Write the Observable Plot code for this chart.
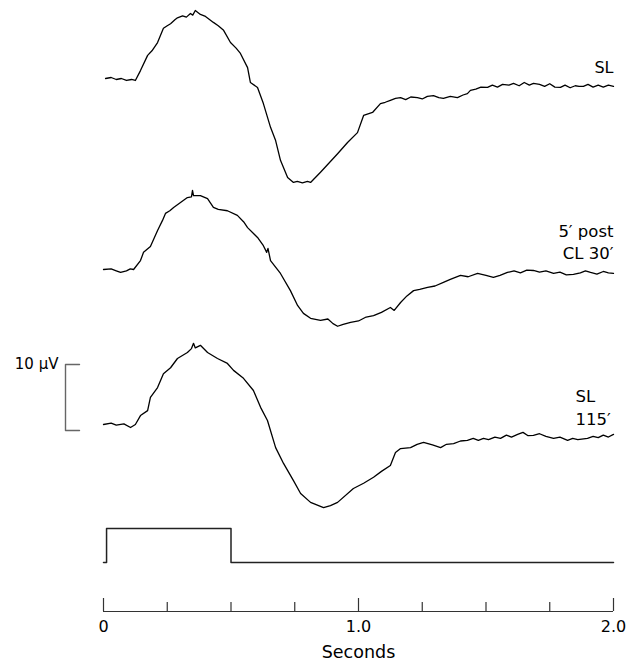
<!DOCTYPE html>
<html><head><meta charset="utf-8">
<script src="https://cdn.jsdelivr.net/npm/d3@7"></script>
<script src="https://cdn.jsdelivr.net/npm/@observablehq/plot@0.6"></script>
<style>body{margin:0;background:#fff}</style>
</head><body><div id="chart"></div>
<script>
// ---- data (time in s, response in µV relative to each trace's own baseline) ----
const t1 = [0.008,0.03,0.05,0.07,0.09,0.11,0.125,0.145,0.173,0.19,0.212,0.235,0.25,0.263,0.28,0.29,0.31,0.325,0.341,0.35,0.36,0.38,0.40,0.431,0.45,0.471,0.498,0.52,0.537,0.565,0.576,0.604,0.627,0.655,0.675,0.694,0.722,0.745,0.76,0.78,0.8,0.812,0.851,0.88,0.918,0.957,0.996,1.02,1.055,1.086,1.105,1.125,1.145,1.165,1.185,1.205,1.231,1.25,1.27,1.294,1.315,1.333,1.36,1.388,1.41,1.427,1.439,1.46,1.48,1.506,1.525,1.545,1.565,1.59,1.608,1.63,1.65,1.67,1.686,1.71,1.73,1.75,1.77,1.792,1.81,1.83,1.85,1.865,1.882,1.9,1.92,1.94,1.96,1.98,2.0];
const v1 = [0,0.15,-0.15,0,-0.3,-0.15,-0.3,1.2,3.5,4.2,5.45,7.6,8.0,8.3,8.9,9.2,9.5,9.3,9.85,9.6,10.3,9.7,9.4,8.5,8.0,7.3,5.45,4.6,3.8,1.65,-0.6,-1.35,-3.8,-7.4,-9.4,-12.4,-15.0,-15.75,-15.6,-15.8,-15.6,-15.75,-14.2,-13.0,-11.4,-9.7,-8.2,-5.6,-5.15,-3.8,-3.6,-3.3,-3.0,-2.9,-3.2,-2.8,-2.9,-3.1,-2.7,-2.6,-2.9,-3.0,-2.7,-2.9,-2.5,-2.3,-1.8,-1.6,-1.3,-1.35,-1.0,-1.3,-0.9,-1.0,-0.75,-1.1,-0.6,-1.0,-0.75,-0.9,-1.2,-0.8,-1.3,-1.35,-1.0,-1.4,-1.1,-1.2,-1.2,-0.9,-1.3,-1.0,-1.3,-1.0,-1.2];

const t2 = [0,0.03,0.05,0.067,0.09,0.105,0.118,0.145,0.157,0.184,0.212,0.231,0.243,0.26,0.275,0.302,0.329,0.345,0.349,0.353,0.38,0.408,0.431,0.45,0.486,0.525,0.55,0.565,0.604,0.627,0.64,0.645,0.655,0.694,0.733,0.761,0.784,0.812,0.851,0.88,0.9,0.918,0.94,0.969,1.0,1.03,1.059,1.09,1.125,1.14,1.165,1.19,1.216,1.24,1.271,1.30,1.333,1.36,1.4,1.43,1.467,1.5,1.529,1.555,1.584,1.61,1.635,1.66,1.686,1.71,1.735,1.765,1.79,1.815,1.843,1.87,1.89,1.91,1.935,1.96,1.98,2.0];
const v2 = [0,0.1,-0.2,-0.45,-0.2,0.1,0,1.35,2.6,3.5,5.9,7.4,8.5,8.9,9.4,10.15,10.9,11.0,12.0,11.2,11.2,10.75,9.4,9.1,8.9,8.2,7.2,6.35,4.85,3.6,2.6,3.2,1.35,-0.6,-3.2,-5.45,-6.65,-7.4,-7.7,-7.5,-8.2,-8.6,-8.3,-8.0,-7.8,-7.2,-7.0,-6.5,-5.75,-6.2,-5.0,-4.0,-3.2,-3.0,-2.7,-2.5,-1.95,-1.5,-0.9,-1.1,-0.6,-0.9,-1.2,-0.9,-0.45,-0.2,-0.5,-0.1,-0.15,-0.4,-0.2,-0.6,-0.4,-0.8,-0.75,-0.5,-0.2,-0.45,-0.7,-0.3,-0.5,-0.6];

const t3 = [0,0.03,0.05,0.08,0.106,0.125,0.145,0.173,0.184,0.212,0.235,0.263,0.29,0.329,0.345,0.353,0.36,0.38,0.408,0.447,0.486,0.51,0.549,0.588,0.616,0.643,0.675,0.706,0.745,0.773,0.812,0.863,0.89,0.918,0.98,1.02,1.059,1.09,1.125,1.145,1.165,1.204,1.23,1.255,1.29,1.322,1.345,1.373,1.40,1.427,1.45,1.47,1.49,1.51,1.535,1.557,1.58,1.60,1.624,1.645,1.665,1.686,1.71,1.735,1.765,1.79,1.82,1.84,1.86,1.898,1.92,1.94,1.96,1.98,2.0];
const v3 = [0,0.2,-0.1,0.1,-0.45,0,1.35,2.1,4.1,5.6,7.7,8.6,10.0,10.9,11.5,12.3,11.6,12.0,10.9,10.0,9.25,8.2,7.0,5.15,2.6,0.6,-3.5,-5.9,-8.5,-10.45,-11.8,-12.6,-12.3,-11.8,-9.7,-8.9,-8.0,-7.1,-6.2,-4.25,-3.65,-3.5,-3.0,-2.7,-3.1,-3.5,-3.0,-2.9,-2.5,-2.4,-2.1,-2.4,-2.1,-2.3,-1.9,-2.1,-1.6,-1.9,-1.5,-1.2,-1.7,-1.65,-1.4,-1.8,-2.1,-1.9,-2.4,-2.1,-2.3,-2.1,-1.8,-2.0,-1.6,-1.9,-1.5];

const stimT = [0, 0.012, 0.012, 0.5, 0.5, 2.0];
const stimOn = [0, 0, 1, 1, 0, 0];

const tickValues = [0, 0.25, 0.5, 0.75, 1.0, 1.25, 1.5, 1.75, 2.0];
const majorTicks = [0, 1, 2];
const majorLabels = ["0", "1.0", "2.0"];
const label1 = "SL";
const label2 = "5\u2032 post\nCL 30\u2032";
const label3 = "SL\n115\u2032";
const scaleBarUV = 10;
const scaleBarLabel = "10 \u00b5V";
const xLabel = "Seconds";

// ---- layout ----
const W = 634, H = 667;
const PXUV = 6.6;             // pixels per µV
const ref = 424;              // pixel row of the bottom trace's baseline
const row = px => (ref - px) / PXUV;  // pixel row -> y units
const off1 = row(78), off2 = row(269), off3 = row(424);
const stimBase = row(562), stimAmp = row(528) - row(562);
const axisY = row(611);
const colX = px => (px - 103) / 255;  // pixel column -> seconds

const tr = (ts, vs, off) => ts.map((t, i) => ({t, v: vs[i] + off}));
const d1 = tr(t1, v1, off1), d2 = tr(t2, v2, off2), d3 = tr(t3, v3, off3);
const stim = stimT.map((t, i) => ({t, v: stimBase + stimOn[i] * stimAmp}));
const bar0 = row(430);
const bar = [
  {t: colX(79), v: bar0 + scaleBarUV},
  {t: colX(65), v: bar0 + scaleBarUV},
  {t: colX(65), v: bar0},
  {t: colX(79), v: bar0}
];
const ticks = tickValues.map(t => ({t, major: majorTicks.includes(t)}));

const font = "DejaVu Sans";
const chart = Plot.plot({
  width: W, height: H, margin: 0,
  x: {domain: [0, 2], range: [103, 613], axis: null},
  y: {domain: [row(H), row(0)], range: [H, 0], axis: null},
  style: {fontFamily: font, background: "white", color: "black"},
  marks: [
    Plot.line(d1, {x: "t", y: "v", stroke: "black", strokeWidth: 1.3}),
    Plot.line(d2, {x: "t", y: "v", stroke: "black", strokeWidth: 1.3}),
    Plot.line(d3, {x: "t", y: "v", stroke: "black", strokeWidth: 1.3}),
    Plot.line(stim, {x: "t", y: "v", stroke: "#222", strokeWidth: 1.5, curve: "linear"}),
    Plot.line(bar, {x: "t", y: "v", stroke: "#666", strokeWidth: 1.4}),
    Plot.text([scaleBarLabel], {x: colX(58), y: bar0 + scaleBarUV, text: d => d, textAnchor: "end", lineAnchor: "middle", fontSize: 15}),
    Plot.ruleY([axisY], {x1: 0, x2: 2, stroke: "#333", strokeWidth: 1.2}),
    Plot.ruleX(ticks, {x: "t", y1: axisY, y2: d => axisY + (d.major ? 13 : 9) / PXUV, stroke: "#333", strokeWidth: 1.2}),
    Plot.text(majorTicks, {x: d => d, y: row(626), text: (d, i) => majorLabels[i], textAnchor: "middle", lineAnchor: "middle", fontSize: 16}),
    Plot.text([xLabel], {x: 1, y: row(652), text: d => d, textAnchor: "middle", lineAnchor: "middle", fontSize: 17.5}),
    Plot.text([label1], {x: 2, y: row(67), text: d => d, textAnchor: "end", lineAnchor: "middle", fontSize: 16}),
    Plot.text([label2], {x: 2, y: row(240.5), text: d => d, textAnchor: "end", lineAnchor: "middle", fontSize: 16.5, lineHeight: 1.3}),
    Plot.text([label3], {x: colX(575), y: row(405.5), text: d => d, textAnchor: "start", lineAnchor: "middle", fontSize: 16.5, lineHeight: 1.4})
  ]
});
document.getElementById("chart").appendChild(chart);
</script>
</body></html>
